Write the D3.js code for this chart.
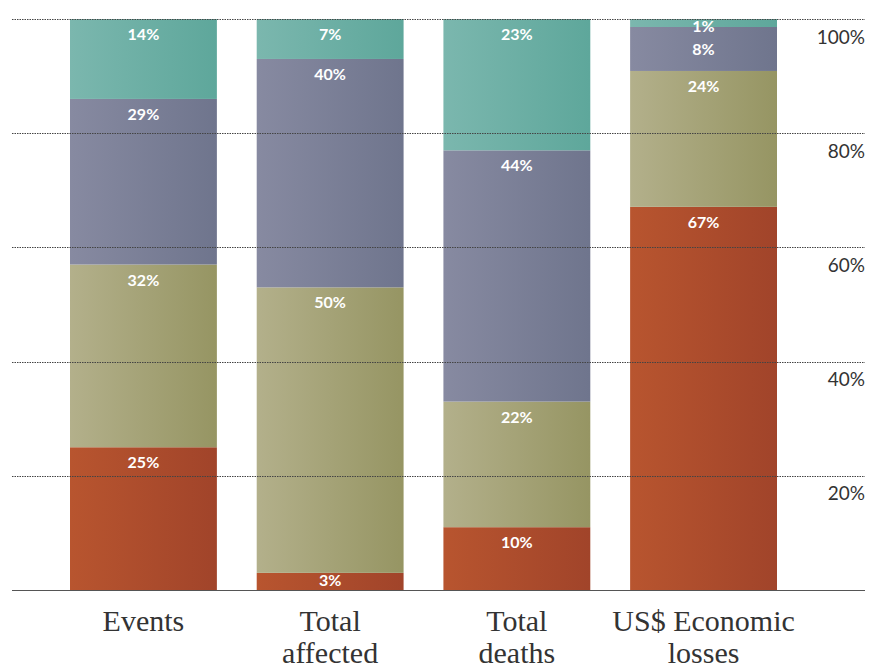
<!DOCTYPE html>
<html><head><meta charset="utf-8">
<script src="https://cdn.jsdelivr.net/npm/d3@7"></script>
<style>body{margin:0;background:#fff}</style>
</head><body>
<script>
const categories = ["Events", "Total affected", "Total deaths", "US$ Economic losses"];
const categoryLines = [["Events"], ["Total", "affected"], ["Total", "deaths"], ["US$ Economic", "losses"]];
const seriesKeys = ["s1", "s2", "s3", "s4"];
const s1Values = [25, 3, 11, 67.1];
const s2Values = [32, 50, 22, 23.8];
const s3Values = [29, 40, 44, 7.7];
const s4Values = [14, 7, 23, 1.4];
const s1Labels = ["25%", "3%", "10%", "67%"];
const s2Labels = ["32%", "50%", "22%", "24%"];
const s3Labels = ["29%", "40%", "44%", "8%"];
const s4Labels = ["14%", "7%", "23%", "1%"];
const yTicks = [20, 40, 60, 80, 100];

const W = 871, H = 668;
const svg = d3.select("body").append("svg").attr("width", W).attr("height", H);

const allValues = [s1Values, s2Values, s3Values, s4Values];
const allLabels = [s1Labels, s2Labels, s3Labels, s4Labels];
const data = categories.map((c, i) => {
  const o = {cat: c};
  seriesKeys.forEach((k, j) => o[k] = allValues[j][i]);
  return o;
});
const series = d3.stack().keys(seriesKeys)(data);

const x = d3.scaleBand().domain(categories).range([70, 777]).paddingInner(0.2133).paddingOuter(0);
const y = d3.scaleLinear().domain([0, 100]).range([590, 19]);

const grads = [
  ["#b8552f", "#a1442a"],
  ["#b3b08b", "#969563"],
  ["#878aa1", "#6f758d"],
  ["#7bb7ae", "#5ea79b"]
];
const defs = svg.append("defs");
grads.forEach((g, i) => {
  const lg = defs.append("linearGradient").attr("id", "g" + i).attr("x1", "0").attr("x2", "1").attr("y1", "0").attr("y2", "0");
  lg.append("stop").attr("offset", "0").attr("stop-color", g[0]);
  lg.append("stop").attr("offset", "1").attr("stop-color", g[1]);
});

series.forEach((s, j) => {
  svg.append("g").selectAll("rect").data(s).join("rect")
    .attr("x", d => x(d.data.cat))
    .attr("width", x.bandwidth())
    .attr("y", d => y(d[1]))
    .attr("height", d => y(d[0]) - y(d[1]))
    .attr("fill", "url(#g" + j + ")");
});

// gridlines
svg.append("g").selectAll("line").data(yTicks).join("line")
  .attr("x1", 12).attr("x2", 865)
  .attr("y1", d => Math.round(y(d)) + 0.5).attr("y2", d => Math.round(y(d)) + 0.5)
  .attr("stroke", "#444").attr("stroke-width", 1).attr("stroke-dasharray", "1.5,1");

// baseline
svg.append("line").attr("x1", 12).attr("x2", 865).attr("y1", y(0) + 0.5).attr("y2", y(0) + 0.5)
  .attr("stroke", "#555").attr("stroke-width", 1.2);

// segment labels: near top of each segment, top-down with spacing
categories.forEach((c, i) => {
  let prev = -Infinity;
  for (let j = series.length - 1; j >= 0; j--) {
    const d = series[j][i];
    const top = y(d[1]), bottom = y(d[0]);
    let b = (bottom - top) < 20 ? top + 13 : top + 21;
    b = Math.max(b, prev + 23);
    prev = b;
    svg.append("text")
      .attr("x", x(c) + x.bandwidth() / 2)
      .attr("y", b)
      .attr("text-anchor", "middle")
      .attr("font-family", "Lato, 'Open Sans', sans-serif")
      .attr("font-weight", "bold")
      .attr("font-size", 16)
      .attr("fill", "#fff")
      .text(allLabels[j][i]);
  }
});

// y tick labels on the right
const yAxis = d3.axisRight(y).tickValues(yTicks).tickSize(0).tickFormat(d => d + "%");
const ya = svg.append("g").attr("transform", "translate(865,0)").call(yAxis);
ya.select(".domain").remove();
ya.selectAll("text")
  .attr("text-anchor", "end").attr("x", 0).attr("dy", "0").attr("y", 24)
  .attr("font-family", "Lato, 'Open Sans', sans-serif")
  .attr("font-size", 19).attr("fill", "#333");

// category labels
categories.forEach((c, i) => {
  const cx = x(c) + x.bandwidth() / 2;
  const t = svg.append("text")
    .attr("x", cx).attr("y", 631)
    .attr("text-anchor", "middle")
    .attr("font-family", "'Liberation Serif', serif")
    .attr("font-size", 30)
    .attr("fill", "#333");
  categoryLines[i].forEach((ln, k) => {
    t.append("tspan").attr("x", cx).attr("dy", k === 0 ? 0 : 32).text(ln);
  });
});
</script>
</body></html>
